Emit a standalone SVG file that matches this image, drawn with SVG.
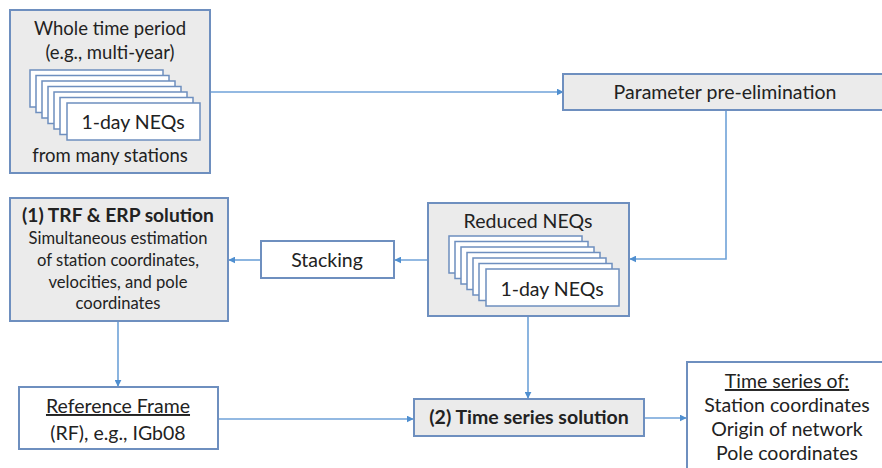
<svg xmlns="http://www.w3.org/2000/svg" width="882" height="468" viewBox="0 0 882 468">
<defs>
<style>
.box{stroke:#6e8fbf;stroke-width:2}
.g{fill:#ebebeb}
.w{fill:#ffffff}
.card{fill:#ffffff;stroke:#6e8fbf;stroke-width:1.5}
text{font-family:Lato,"Liberation Sans",sans-serif;fill:#222222;text-anchor:middle;font-size:19.5px}
.m{font-size:18.5px}
.b{font-weight:bold}
.t{font-size:19.2px}
.s{font-size:16.6px}
.c{stroke:#6fa2d8;stroke-width:1.6;fill:none;marker-end:url(#ah)}
</style>
<marker id="ah" viewBox="0 0 10 10" refX="9" refY="5" markerWidth="7" markerHeight="7" markerUnits="userSpaceOnUse" orient="auto">
<path d="M0,0 L10,5 L0,10 z" fill="#4f8fd0"/>
</marker>
<g id="stack">
<rect class="card" x="0" y="0" width="133" height="37"/>
<rect class="card" x="6" y="5.5" width="133" height="37"/>
<rect class="card" x="12" y="11" width="133" height="37"/>
<rect class="card" x="18" y="16.5" width="133" height="37"/>
<rect class="card" x="24" y="22" width="133" height="37"/>
<rect class="card" x="30" y="27.5" width="133" height="37"/>
<rect class="card" x="37" y="33" width="133" height="37"/>
</g>
</defs>

<g id="connectors">
<path class="c" d="M210,92 H563"/>
<path class="c" d="M726,110 V259 H630"/>
<path class="c" d="M428,260 H395"/>
<path class="c" d="M261,260 H229"/>
<path class="c" d="M118,321 V386"/>
<path class="c" d="M218,419 H413"/>
<path class="c" d="M528,316 V398"/>
<path class="c" d="M644,418 H686"/>
</g>

<g id="whole">
<rect class="box g" x="10" y="10" width="200" height="163"/>
<text class="m" x="110" y="35">Whole time period</text>
<text class="m" x="110" y="59">(e.g., multi-year)</text>
<use href="#stack" x="30" y="70"/>
<text x="133" y="129">1-day NEQs</text>
<text class="m" x="110" y="162">from many stations</text>
</g>

<g id="param">
<rect class="box g" x="563" y="74" width="330" height="36"/>
<text x="725" y="99">Parameter pre-elimination</text>
</g>

<g id="reduced">
<rect class="box g" x="428" y="203" width="201" height="113"/>
<text x="528" y="228">Reduced NEQs</text>
<use href="#stack" x="449" y="236"/>
<text x="552" y="296">1-day NEQs</text>
</g>

<g id="stacking">
<rect class="box w" x="261" y="241" width="133" height="37"/>
<text x="327" y="267">Stacking</text>
</g>

<g id="trf">
<rect class="box g" x="10" y="198" width="218" height="123"/>
<text class="b t" x="118" y="222">(1) TRF &amp; ERP solution</text>
<text class="s" x="118" y="244">Simultaneous estimation</text>
<text class="s" x="118" y="266">of station coordinates,</text>
<text class="s" x="118" y="288">velocities, and pole</text>
<text class="s" x="118" y="309">coordinates</text>
</g>

<g id="rf">
<rect class="box w" x="19" y="387" width="199" height="62"/>
<text x="118" y="413" text-decoration="underline">Reference Frame</text>
<text x="118" y="440">(RF), e.g., IGb08</text>
</g>

<g id="ts">
<rect class="box g" x="414" y="399" width="230" height="37"/>
<text class="b" x="529" y="424">(2) Time series solution</text>
</g>

<g id="out">
<rect class="box w" x="687" y="362" width="210" height="120"/>
<text x="787" y="388" text-decoration="underline">Time series of:</text>
<text x="787" y="412">Station coordinates</text>
<text x="787" y="436">Origin of network</text>
<text x="787" y="460">Pole coordinates</text>
</g>
</svg>
